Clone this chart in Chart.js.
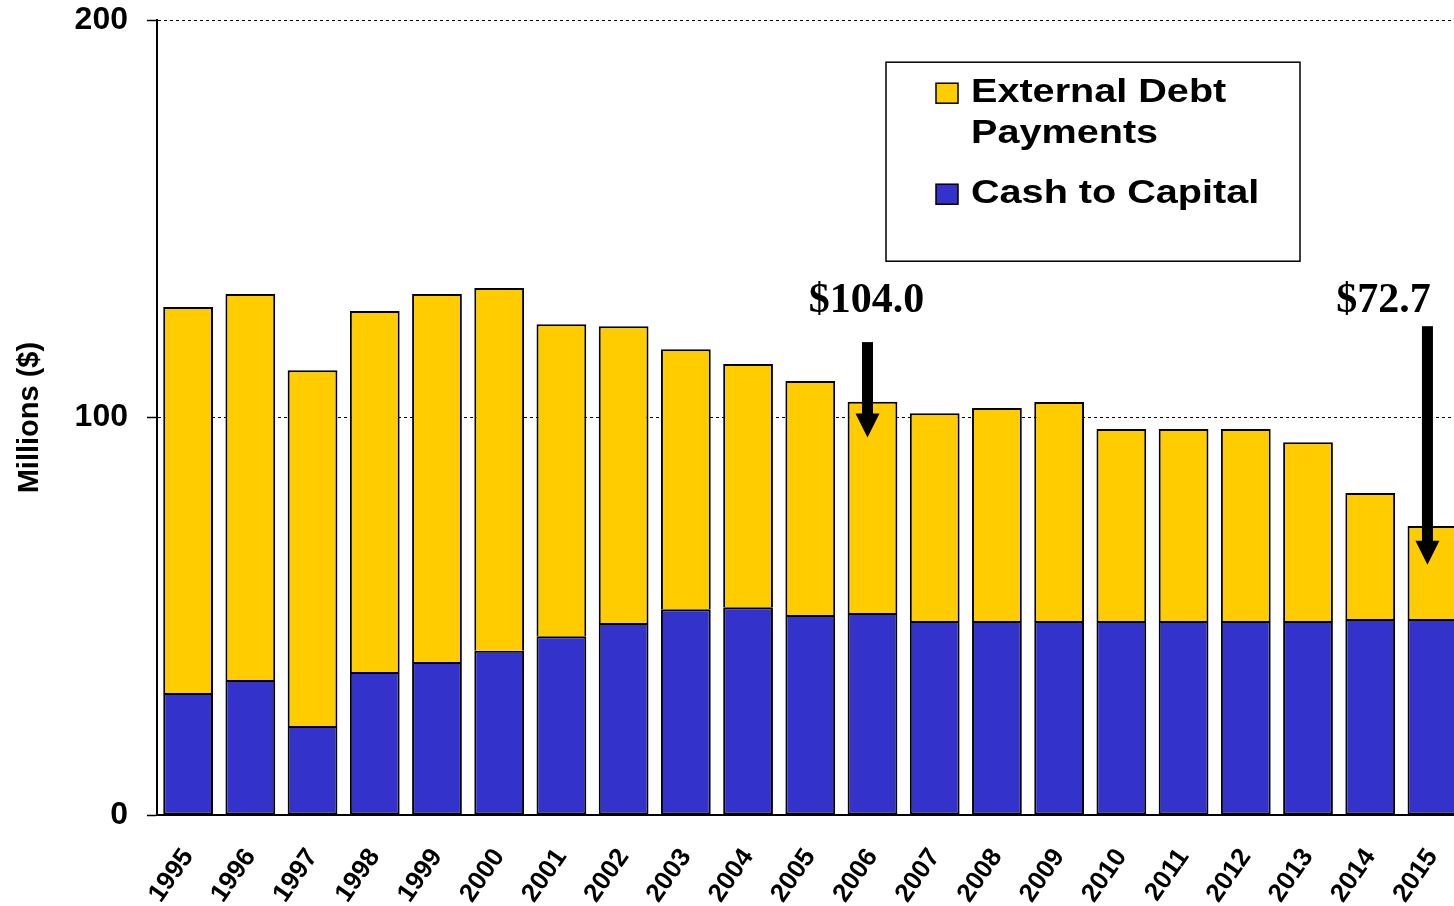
<!DOCTYPE html>
<html>
<head>
<meta charset="utf-8">
<script src="https://cdn.jsdelivr.net/npm/chart.js@4/dist/chart.umd.min.js"></script>
<style>
  html, body { margin: 0; padding: 0; overflow: hidden; background: #fff; }
  #myChart { display: block; margin-top: -18px; }
</style>
</head>
<body>
<canvas id="myChart" width="1486" height="924"></canvas>
<script>
var years = ['1995', '1996', '1997', '1998', '1999', '2000', '2001', '2002', '2003', '2004',
             '2005', '2006', '2007', '2008', '2009', '2010', '2011', '2012', '2013', '2014', '2015'];

var cashToCapital = [30.7, 34.0, 22.4, 36.0, 38.5, 41.3, 45.0, 48.3, 51.8, 52.3,
                     50.3, 50.8, 48.8, 48.8, 48.8, 48.8, 48.8, 48.8, 48.8, 49.3, 49.3];

var externalDebt = [97.1, 97.1, 89.5, 90.8, 92.6, 91.3, 78.5, 74.7, 65.4, 61.2,
                    58.9, 53.2, 52.3, 53.6, 55.1, 48.3, 48.3, 48.3, 45.0, 31.7, 23.4];

var seriesNames = ['Cash to Capital', 'External Debt Payments'];
var seriesColors = ['#3333CC', '#FFCC00'];
var yTicks = [0, 100, 200];

// callouts with arrows
var calloutYears = ['2006', '2015'];
var calloutText = ['$104.0', '$72.7'];
var arrowFrom = [119, 123];
var arrowTo = [95, 63];
var calloutLevel = 126.5;

var calloutPlugin = {
    id: 'callouts',
    afterDatasetsDraw: function (chart) {
        var ctx = chart.ctx;
        var xs = chart.scales.x, ys = chart.scales.y;
        var textShift = [-6, -49];
        ctx.save();
        ctx.fillStyle = '#000';
        for (var i = 0; i < calloutYears.length; i++) {
            var cx = xs.getPixelForValue(years.indexOf(calloutYears[i]));
            var ax = cx - 5;
            var top = ys.getPixelForValue(arrowFrom[i]);
            var tip = ys.getPixelForValue(arrowTo[i]);
            // shaft
            ctx.fillRect(ax - 5.5, top, 11, tip - 23 - top);
            // head
            ctx.beginPath();
            ctx.moveTo(ax - 12, tip - 24);
            ctx.lineTo(ax + 12, tip - 24);
            ctx.lineTo(ax, tip);
            ctx.closePath();
            ctx.fill();
            // text
            ctx.font = 'bold 42px "Liberation Serif", "Times New Roman", serif';
            ctx.textAlign = 'center';
            ctx.textBaseline = 'alphabetic';
            ctx.fillText(calloutText[i], cx + textShift[i], ys.getPixelForValue(calloutLevel));
        }
        ctx.restore();
    }
};

// boxed legend, top item first
var legendPlugin = {
    id: 'boxLegend',
    afterDraw: function (chart) {
        var ctx = chart.ctx;
        var L = chart.chartArea.left, T = chart.chartArea.top;
        var bx = L + 729, by = T + 42, bw = 414, bh = 199;
        ctx.save();
        ctx.fillStyle = '#fff';
        ctx.fillRect(bx, by, bw, bh);
        ctx.strokeStyle = '#000';
        ctx.lineWidth = 1.5;
        ctx.strokeRect(bx, by, bw, bh);

        ctx.font = 'bold 33px "Liberation Sans", Arial, sans-serif';
        ctx.textBaseline = 'alphabetic';
        ctx.textAlign = 'left';
        var stretch = 1.2;
        var maxW = 300;
        var y = T + 82;
        var order = [1, 0];
        for (var k = 0; k < order.length; k++) {
            var i = order[k];
            // wrap words
            var words = seriesNames[i].split(' ');
            var lines = [], cur = '';
            words.forEach(function (w) {
                var t = cur ? cur + ' ' + w : w;
                if (ctx.measureText(t).width * stretch > maxW && cur) {
                    lines.push(cur);
                    cur = w;
                } else {
                    cur = t;
                }
            });
            lines.push(cur);

            ctx.fillStyle = seriesColors[i];
            ctx.fillRect(L + 779, y - 19, 22, 20);
            ctx.strokeStyle = '#000';
            ctx.lineWidth = 1.5;
            ctx.strokeRect(L + 779, y - 19, 22, 20);

            ctx.fillStyle = '#000';
            for (var j = 0; j < lines.length; j++) {
                ctx.save();
                ctx.translate(L + 814, y + j * 41);
                ctx.scale(stretch, 1);
                ctx.fillText(lines[j], 0, 0);
                ctx.restore();
            }
            y += (lines.length - 1) * 41 + 60;
        }
        ctx.restore();
    }
};

function viewChart() {
    var ctx = document.getElementById('myChart').getContext('2d');

    var myBarChart = new Chart(ctx, {
        type: 'bar',
        data: {
            labels: years,
            datasets: [{
                label: seriesNames[0],
                data: cashToCapital,
                backgroundColor: seriesColors[0],
                borderColor: '#000',
                borderWidth: 2,
                borderSkipped: false
            }, {
                label: seriesNames[1],
                data: externalDebt,
                backgroundColor: seriesColors[1],
                borderColor: '#000',
                borderWidth: 2,
                borderSkipped: 'start'
            }]
        },
        options: {
            responsive: false,
            animation: false,
            events: [],
            barPercentage: 0.8,
            categoryPercentage: 1.0,
            layout: { padding: { top: 1, left: 0, right: 0, bottom: 0 } },
            plugins: {
                legend: { display: false },
                tooltip: { enabled: false }
            },
            scales: {
                x: {
                    stacked: true,
                    grid: { display: true, drawOnChartArea: false, drawTicks: false },
                    border: { display: true, color: '#000', width: 2 },
                    ticks: {
                        color: '#000',
                        font: { family: '"Liberation Sans", Arial, sans-serif', size: 26, weight: 'bold' },
                        minRotation: 55,
                        maxRotation: 55,
                        autoSkip: false,
                        padding: 28
                    },
                    afterFit: function (s) { s.height = 91; }
                },
                y: {
                    stacked: true,
                    min: 0,
                    max: 200,
                    afterBuildTicks: function (s) {
                        s.ticks = yTicks.map(function (v) { return { value: v }; });
                    },
                    grid: {
                        color: '#000',
                        lineWidth: 1,
                        tickLength: 10,
                        tickColor: '#000',
                        tickWidth: 1.5
                    },
                    border: { display: true, color: '#000', width: 2, dash: [3, 3] },
                    ticks: {
                        color: '#000',
                        font: { family: '"Liberation Sans", Arial, sans-serif', size: 32, weight: 'bold' },
                        padding: 19
                    },
                    title: {
                        display: true,
                        text: 'Millions ($)',
                        color: '#000',
                        font: { family: '"Liberation Sans", Arial, sans-serif', size: 29, weight: 'bold' },
                        padding: { top: 13, bottom: 0 }
                    },
                    afterFit: function (s) { s.width = 157; }
                }
            }
        },
        plugins: [calloutPlugin, legendPlugin]
    });
}
viewChart();
</script>
</body>
</html>
